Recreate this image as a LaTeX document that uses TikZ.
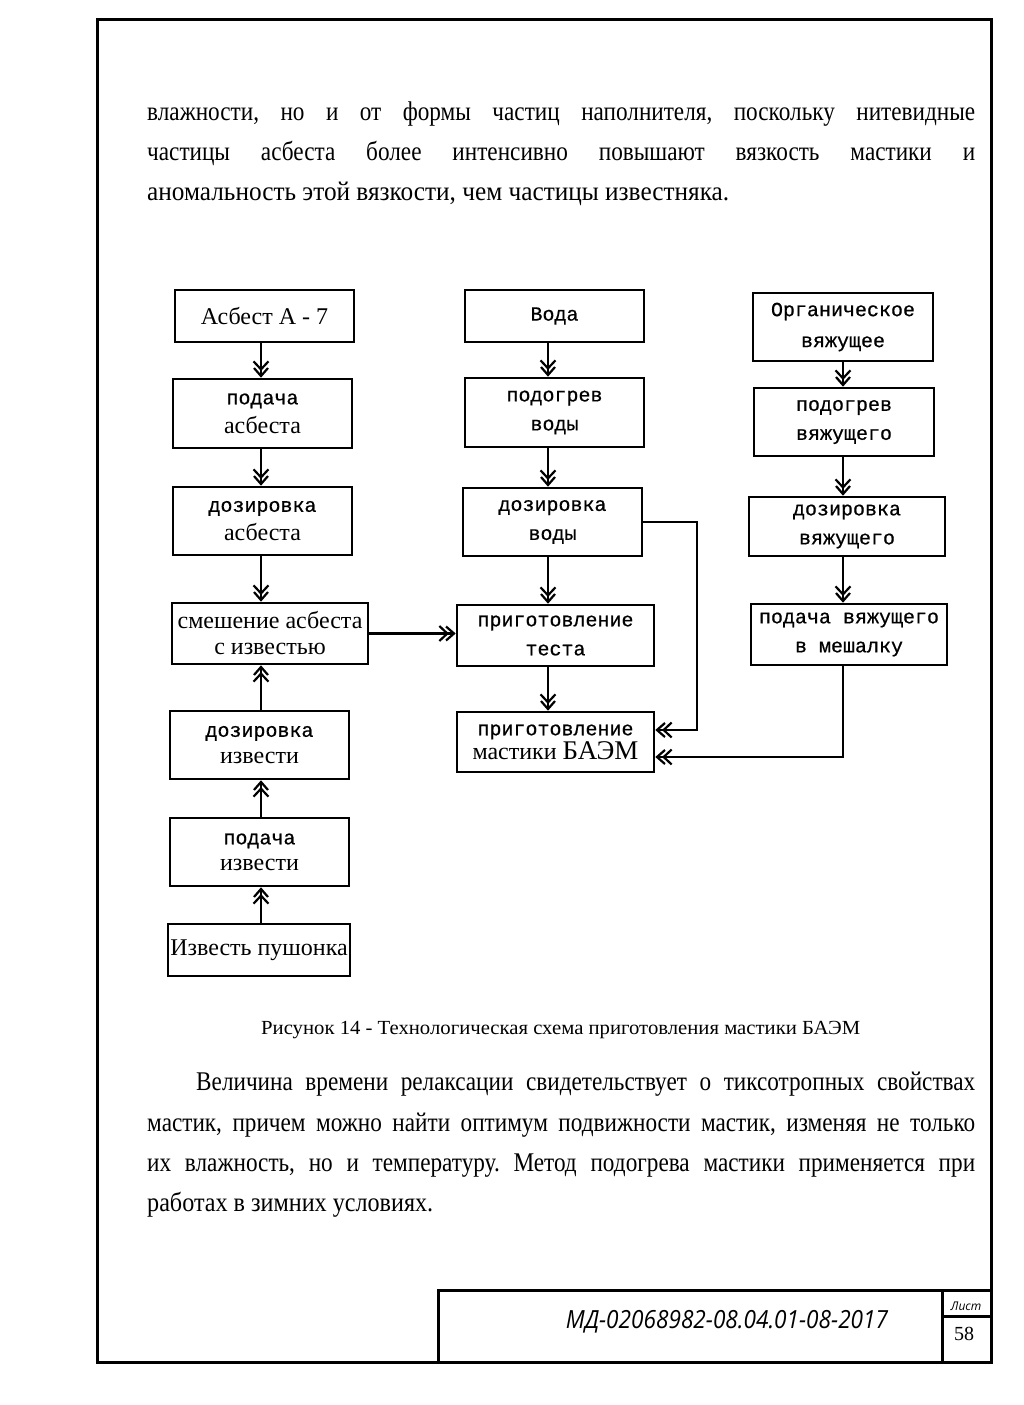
\documentclass[tikz,border=0pt]{standalone}
\usepackage{graphicx}
\usepackage{fontspec}
\setmainfont{Liberation Serif}
\newfontfamily\mono[FakeBold=0.6]{Liberation Mono}
\newfontfamily\stampfont{Open Sans}
\usetikzlibrary{arrows.meta,calc}
\newcommand\tm{\rmfamily\fontsize{24pt}{29pt}\selectfont}
\newcommand\jline[2]{\scalebox{0.86}[1]{\makebox[\dimexpr #1pt*100/86\relax][s]{#2}}}
\newcommand\nline[2]{\resizebox{#1pt}{\height}{#2}}
\frenchspacing
\begin{document}
\begin{tikzpicture}[x=1pt,y=-1pt,
  box/.style={draw, line width=2.6pt, inner sep=0pt, align=center,
    font=\mono\fontsize{20pt}{29pt}\selectfont},
  arr/.style={line width=2.6pt,
    -{Straight Barb[length=8pt,width=15pt,line width=2.2pt,sep=-4pt] Straight Barb[length=8pt,width=14pt,line width=2.2pt]}},
  para/.style={anchor=base west, inner sep=0pt, font=\fontsize{27pt}{32pt}\selectfont},
  frame/.style={line width=3pt}]
\useasboundingbox (0,0) rectangle (1024,1405);
\fill[white] (0,0) rectangle (1024,1405);

% page frame and title block
\draw[frame] (97,20) rectangle (991,1362);
\draw[frame] (438,1362) -- (438,1290) -- (991,1290);
\draw[frame] (942,1290) -- (942,1362);
\draw[frame] (942,1316) -- (991,1316);
\node[inner sep=0pt, anchor=base] (code) at (727,1328)
  {\nline{322}{\stampfont\itshape\fontsize{25pt}{30pt}\selectfont МД-02068982-08.04.01-08-2017}};
\node[inner sep=0pt] (list) at (966,1306) {\stampfont\itshape\fontsize{12pt}{14pt}\selectfont Лист};
\node[inner sep=0pt] (sheet) at (964,1334) {\fontsize{20pt}{24pt}\selectfont 58};

% top paragraph
\node[para] (t1) at (147,120) {\jline{828}{влажности, но и от формы частиц наполнителя, поскольку нитевидные}};
\node[para] (t2) at (147,160) {\jline{828}{частицы асбеста более интенсивно повышают вязкость мастики и}};
\node[para] (t3) at (147,200) {\nline{582}{аномальность этой вязкости, чем частицы известняка.}};

% caption
\node[anchor=base west, inner sep=0pt, font=\fontsize{20pt}{24pt}\selectfont] (cap) at (261,1034)
  {\nline{599}{Рисунок 14 - Технологическая схема приготовления мастики БАЭМ}};

% bottom paragraph
\node[para] (b1) at (196,1090) {\jline{779}{Величина времени релаксации свидетельствует о тиксотропных свойствах}};
\node[para] (b2) at (147,1131) {\jline{828}{мастик, причем можно найти оптимум подвижности мастик, изменяя не только}};
\node[para] (b3) at (147,1171) {\jline{828}{их влажность, но и температуру. Метод подогрева мастики применяется при}};
\node[para] (b4) at (147,1211) {\nline{286}{работах в зимних условиях.}};

% column 1
\node[box, minimum width=179pt, minimum height=52pt] (A1) at (264.5,316) {\tm Асбест А - 7};
\node[box, minimum width=179pt, minimum height=69pt] (A2) at (262.5,413.5) {подача\\{\tm асбеста}};
\node[box, minimum width=179pt, minimum height=68pt] (A3) at (262.5,521) {дозировка\\{\tm асбеста}};
\node[box, minimum width=196pt, minimum height=61pt, font=\tm\fontsize{24pt}{26pt}\selectfont] (A4) at (270,633.5) {смешение асбеста\\с известью};
\node[box, minimum width=179pt, minimum height=68pt, font=\mono\fontsize{20pt}{27pt}\selectfont] (A5) at (259.5,745) {дозировка\\{\tm извести}};
\node[box, minimum width=179pt, minimum height=68pt, font=\mono\fontsize{20pt}{26pt}\selectfont] (A6) at (259.5,852) {подача\\{\tm извести}};
\node[box, minimum width=182pt, minimum height=52pt] (A7) at (259,950) {\tm Известь пушонка};

% column 2
\node[box, minimum width=179pt, minimum height=52pt] (B1) at (554.5,316) {Вода};
\node[box, minimum width=179pt, minimum height=69pt] (B2) at (554.5,412.5) {подогрев\\воды};
\node[box, minimum width=179pt, minimum height=68pt] (B3) at (552.5,522) {дозировка\\воды};
\node[box, minimum width=197pt, minimum height=61pt] (B4) at (555.5,635.5) {приготовление\\теста};
\node[box, minimum width=197pt, minimum height=60pt, font=\mono\fontsize{20pt}{24pt}\selectfont] (B5) at (555.5,742)
  {приготовление\\{\rmfamily\fontsize{24pt}{24pt}\selectfont мастики {\fontsize{27pt}{24pt}\selectfont БАЭМ}}};

% column 3
\node[box, minimum width=180pt, minimum height=68pt, font=\mono\fontsize{20pt}{31pt}\selectfont] (C1) at (843,327) {Органическое\\вяжущее};
\node[box, minimum width=180pt, minimum height=68pt] (C2) at (844,422) {подогрев\\вяжущего};
\node[box, minimum width=196pt, minimum height=59pt] (C3) at (847,526.5) {дозировка\\вяжущего};
\node[box, minimum width=196pt, minimum height=61pt] (C4) at (849,634.5) {подача вяжущего\\в мешалку};

% helper coordinates
\coordinate (x1) at (261,0);
\coordinate (x2) at (548,0);
\coordinate (x3) at (843,0);
\coordinate (j1) at (697,0);
\coordinate (b5a) at ([yshift=12pt]B5.east);
\coordinate (b5b) at ([yshift=-15pt]B5.east);

% connectors column 1
\draw[arr] (A1.south -| x1) -- (A2.north -| x1);
\draw[arr] (A2.south -| x1) -- (A3.north -| x1);
\draw[arr] (A3.south -| x1) -- (A4.north -| x1);
\draw[arr] (A5.north -| x1) -- (A4.south -| x1);
\draw[arr] (A6.north -| x1) -- (A5.south -| x1);
\draw[arr] (A7.north -| x1) -- (A6.south -| x1);
\draw[arr] (A4.east) -- (A4.east -| B4.west);

% connectors column 2
\draw[arr] (B1.south -| x2) -- (B2.north -| x2);
\draw[arr] (B2.south -| x2) -- (B3.north -| x2);
\draw[arr] (B3.south -| x2) -- (B4.north -| x2);
\draw[arr] (B4.south -| x2) -- (B5.north -| x2);
\draw[arr] (B3.east) -| (j1 |- b5a) -- (b5a);

% connectors column 3
\draw[arr] (C1.south -| x3) -- (C2.north -| x3);
\draw[arr] (C2.south -| x3) -- (C3.north -| x3);
\draw[arr] (C3.south -| x3) -- (C4.north -| x3);
\draw[arr] (C4.south -| x3) |- (b5b);
\end{tikzpicture}
\end{document}
